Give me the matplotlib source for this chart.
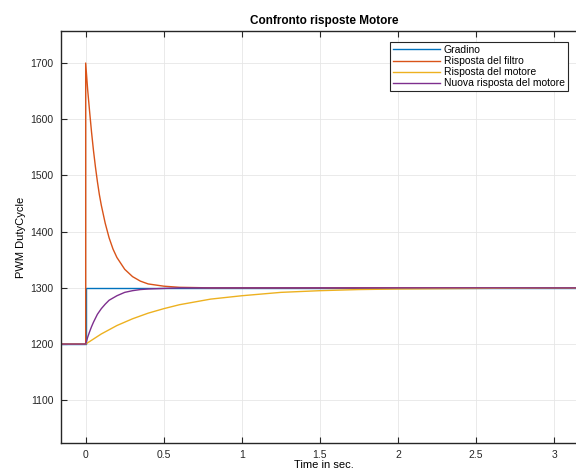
import matplotlib
matplotlib.use('Agg')
import matplotlib.pyplot as plt

plt.rcParams['font.family'] = ['Liberation Sans', 'DejaVu Sans']

# values (time in sec, PWM duty cycle)
t_step = [-0.3, 0.0, 0.0, 3.5]
gradino = [1200, 1200, 1300, 1300]

t_filtro = [-0.3, 0.0, 0.0, 0.0125, 0.025, 0.0375, 0.05, 0.0625, 0.075, 0.0875,
            0.1, 0.125, 0.15, 0.175, 0.2, 0.25, 0.3, 0.35, 0.4, 0.5, 0.6, 0.8,
            1.0, 3.5]
filtro = [1200, 1200, 1700, 1653, 1614, 1577, 1544, 1515, 1489, 1466,
          1447, 1415, 1389, 1369, 1354, 1333, 1320, 1312, 1307, 1303, 1301, 1300,
          1300, 1300]

t_motore = [-0.3, 0.0, 0.1, 0.2, 0.3, 0.4, 0.5, 0.6, 0.8, 1.0, 1.25, 1.5,
            1.75, 2.0, 2.5, 3.0, 3.5]
motore = [1200, 1200, 1218, 1233, 1245, 1255, 1263, 1270, 1280, 1286, 1292,
          1295, 1297, 1298, 1299, 1300, 1300]

t_nuova = [-0.3, 0.0, 0.0125, 0.025, 0.0375, 0.05, 0.075, 0.1, 0.125, 0.15,
           0.2, 0.25, 0.3, 0.35, 0.4, 0.5, 0.6, 3.5]
nuova = [1200, 1200, 1212, 1222, 1231, 1239, 1253, 1263, 1271, 1278,
         1286, 1292, 1295, 1297, 1298, 1299, 1300, 1300]

fig = plt.figure(figsize=(5.76, 4.71), dpi=100)
ax = fig.add_axes([60.7 / 576, 1 - 443 / 471, (587 - 60.7) / 576, (443 - 31) / 471])

ax.plot(t_step, gradino, color=(0, 0.447, 0.741), lw=1, label='Gradino')
ax.plot(t_filtro, filtro, color=(0.85, 0.325, 0.098), lw=1, label='Risposta del filtro')
ax.plot(t_motore, motore, color=(0.929, 0.694, 0.125), lw=1, label='Risposta del motore')
ax.plot(t_nuova, nuova, color=(0.494, 0.184, 0.556), lw=1, label='Nuova risposta del motore')

ax.set_xlim(-0.16, 3.21)
ax.set_ylim(1024, 1757)
ax.set_xticks([0, 0.5, 1, 1.5, 2, 2.5, 3])
ax.set_xticklabels(['0', '0.5', '1', '1.5', '2', '2.5', '3'])
ax.set_yticks([1100, 1200, 1300, 1400, 1500, 1600, 1700])

ax.grid(True, color='#e6e6e6', lw=0.6)
ax.set_axisbelow(True)
ax.tick_params(direction='in', top=True, right=True, length=4, width=0.8,
               labelsize=7.5, colors='#262626', pad=5)
for s in ax.spines.values():
    s.set_color('#262626')
    s.set_linewidth(1)

ax.set_title('Confronto risposte Motore', fontsize=8.5, fontweight='bold', pad=5)
ax.set_xlabel('Time in sec.', fontsize=8, labelpad=0)
ax.set_ylabel('PWM DutyCycle', fontsize=8, labelpad=3)

leg = ax.legend(loc='upper right', bbox_to_anchor=(568 / 576, 1 - 42 / 471),
                bbox_transform=fig.transFigure, fontsize=7.5, fancybox=False,
                framealpha=1, edgecolor='#262626', handlelength=4.5,
                labelspacing=0.1, borderpad=0.3, handletextpad=0.4,
                borderaxespad=0)
leg.get_frame().set_linewidth(0.8)

fig.savefig('out.png', dpi=100)
